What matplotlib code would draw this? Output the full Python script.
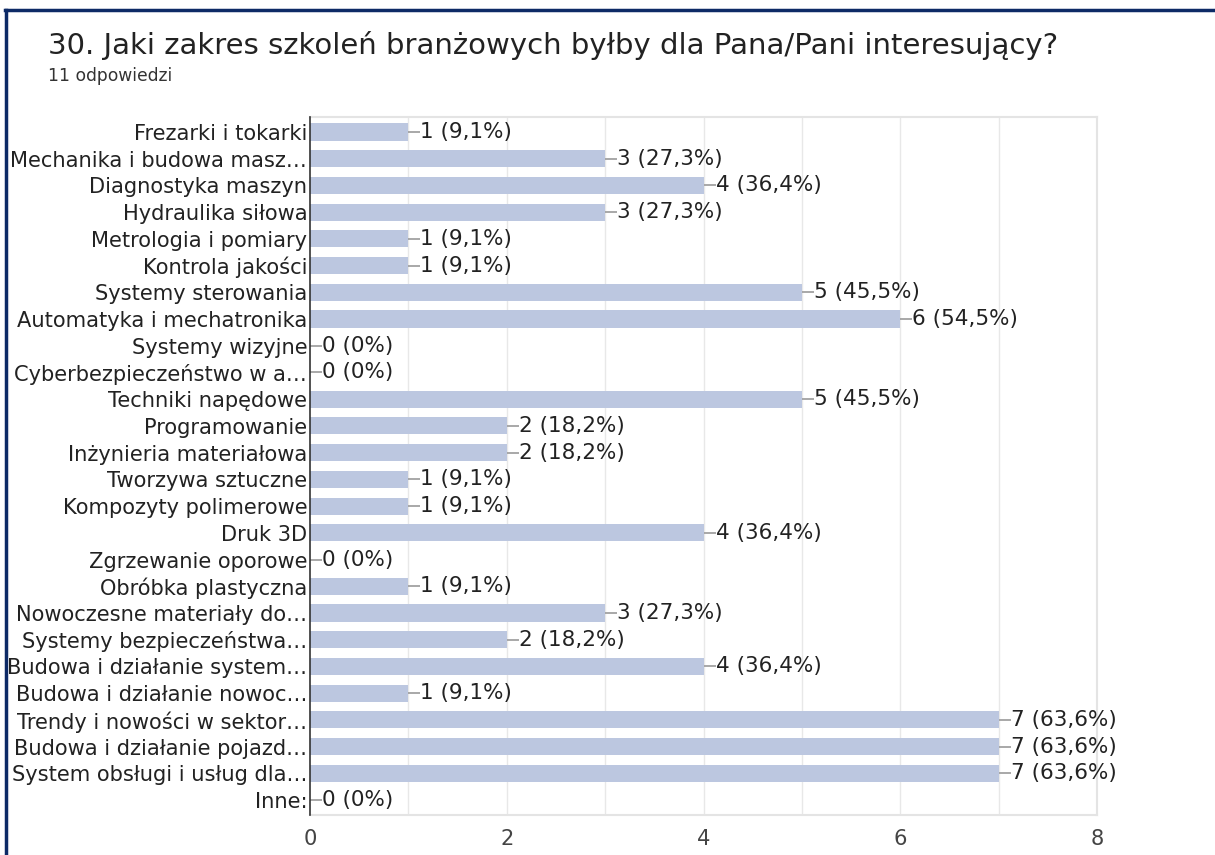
import matplotlib
matplotlib.use("Agg")
import matplotlib.pyplot as plt
from matplotlib.lines import Line2D

categories = [
    "Frezarki i tokarki",
    "Mechanika i budowa masz…",
    "Diagnostyka maszyn",
    "Hydraulika siłowa",
    "Metrologia i pomiary",
    "Kontrola jakości",
    "Systemy sterowania",
    "Automatyka i mechatronika",
    "Systemy wizyjne",
    "Cyberbezpieczeństwo w a…",
    "Techniki napędowe",
    "Programowanie",
    "Inżynieria materiałowa",
    "Tworzywa sztuczne",
    "Kompozyty polimerowe",
    "Druk 3D",
    "Zgrzewanie oporowe",
    "Obróbka plastyczna",
    "Nowoczesne materiały do…",
    "Systemy bezpieczeństwa…",
    "Budowa i działanie system…",
    "Budowa i działanie nowoc…",
    "Trendy i nowości w sektor…",
    "Budowa i działanie pojazd…",
    "System obsługi i usług dla…",
    "Inne:",
]
counts = [1, 3, 4, 3, 1, 1, 5, 6, 0, 0, 5, 2, 2, 1, 1, 4, 0, 1, 3, 2, 4, 1, 7, 7, 7, 0]
percents = ["9,1%", "27,3%", "36,4%", "27,3%", "9,1%", "9,1%", "45,5%", "54,5%", "0%", "0%",
            "45,5%", "18,2%", "18,2%", "9,1%", "9,1%", "36,4%", "0%", "9,1%", "27,3%", "18,2%",
            "36,4%", "9,1%", "63,6%", "63,6%", "63,6%", "0%"]
x_ticks = [0, 2, 4, 6, 8]

title = "30. Jaki zakres szkoleń branżowych byłby dla Pana/Pani interesujący?"
subtitle = "11 odpowiedzi"

BAR = "#bcc7e0"
TXT = "#222222"
FONT = "DejaVu Sans"

fig = plt.figure(figsize=(12.15, 8.55), dpi=100)
fig.patch.set_facecolor("white")

ax = fig.add_axes([310/1215, 1-815/855, (1097-310)/1215, (815-117)/855])
n = len(categories)
ypos = list(range(n))
ax.barh(ypos, counts, height=0.64, color=BAR, zorder=2)
ax.set_ylim(n - 0.44, -0.56)
ax.set_xlim(0, 8)

# gridlines every 1
for v in range(1, 8):
    ax.axvline(v, color="#e8e8e8", lw=1.0, zorder=0)

ax.set_xticks(x_ticks)
ax.set_xticklabels([str(t) for t in x_ticks])
ax.set_yticks(ypos)
ax.set_yticklabels(categories)
ax.tick_params(axis="both", length=0, labelcolor=TXT)
ax.tick_params(axis="x", pad=10, labelcolor="#444444")
ax.tick_params(axis="y", pad=2)
for lab in ax.get_yticklabels() + ax.get_xticklabels():
    lab.set_fontfamily(FONT)
    lab.set_fontsize(15.1)

for side in ["top", "right", "bottom"]:
    ax.spines[side].set_color("#e4e4e4")
    ax.spines[side].set_linewidth(1.5)
ax.spines["left"].set_color("#333333")
ax.spines["left"].set_linewidth(1.2)
ax.spines["left"].set_zorder(5)

# value labels with connector
unit = (1097-310)/8.0  # px per unit
for y, c, p in zip(ypos, counts, percents):
    ax.plot([c, c + 12/unit], [y, y], color="#9a9a9a", lw=1.2, zorder=3,
            solid_capstyle="butt")
    ax.text(c + 12/unit, y, f"{c} ({p})", va="center", ha="left", fontsize=15.5,
            color=TXT, family=FONT)

fig.text(48/1215, 1-45/855, title, fontsize=21, color=TXT, family=FONT,
         va="center", ha="left")
fig.text(48/1215, 1-76/855, subtitle, fontsize=12.3, color="#333333", family=FONT,
         va="center", ha="left")

# outer navy border (top and left)
fig.add_artist(Line2D([5/1215, 1], [1-10.5/855, 1-10.5/855], transform=fig.transFigure,
                      color="#0d2a66", lw=2.5))
fig.add_artist(Line2D([5.5/1215, 5.5/1215], [0, 1-10.5/855], transform=fig.transFigure,
                      color="#0d2a66", lw=2.5))

fig.savefig("out.png", dpi=100, facecolor="white")
